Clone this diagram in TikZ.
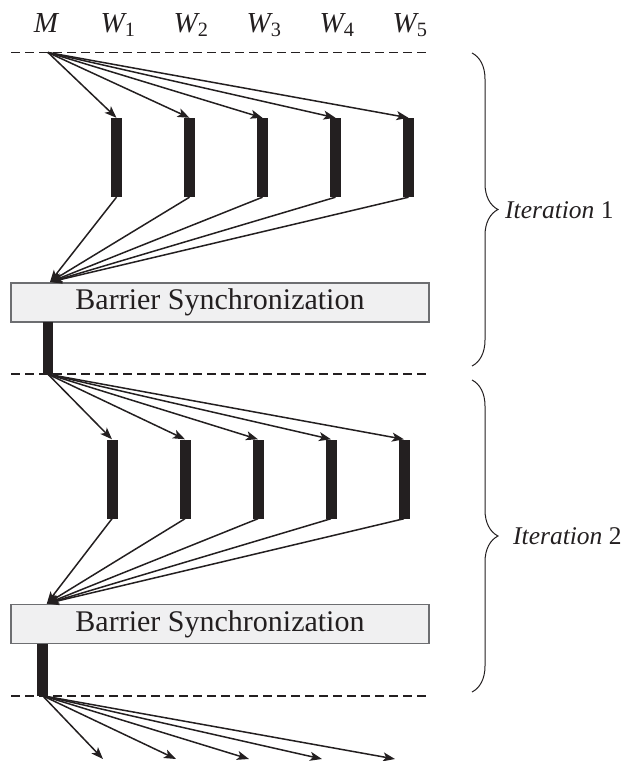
\documentclass[tikz,border=0pt]{standalone}
\usepackage{fontspec}
\setmainfont{Liberation Serif}
\usepackage{tikz}
\usetikzlibrary{
	arrows.meta,									% 箭头样式
	decorations.pathreplacing,						% 花括号
}
\definecolor{inkblack}{HTML}{231F20}
\definecolor{barrierfill}{HTML}{F0F0F1}
\definecolor{barrierdraw}{HTML}{6D6E71}

\begin{document}
\begin{tikzpicture}[x=1pt, y=-1pt,
		msg/.style={draw=inkblack, line width=1.5pt, -{Stealth[length=12pt, width=9pt, inset=3pt]}},
		workbar/.style={fill=inkblack, minimum width=11pt, minimum height=79pt, inner sep=0pt},
		masterbar/.style={fill=inkblack, minimum width=10.5pt, minimum height=52pt, inner sep=0pt},
		barrier/.style={draw=barrierdraw, fill=barrierfill, line width=1.1pt, minimum width=418pt, minimum height=39pt, inner sep=0pt, text=inkblack, font=\fontsize{30}{32}\selectfont},
		phase/.style={draw=inkblack, line width=1.1pt, dash pattern=on 9pt off 5pt},
		iterbrace/.style={draw=inkblack, line width=1pt, decorate, decoration={brace, amplitude=26pt}},
		head/.style={anchor=base, text=inkblack, font=\fontsize{29}{32}\selectfont\itshape},
		iterlabel/.style={anchor=west, inner sep=0pt, text=inkblack, font=\fontsize{25.5}{28}\selectfont},
	]
	\useasboundingbox (0,0) rectangle (628,761);
	% 进程标签
	\node[head] (lm) at (46,32) {M};
	\foreach \k in {1,...,5}
		\node[head] (l\k) at ({118+73*(\k-1)},32) {W\textsubscript{\upshape\k}};
	% 分隔虚线
	\draw[phase] (11,52.5) -- (428,52.5);
	\draw[phase] (11,374) -- (428,374);
	\draw[phase] (11,696) -- (428,696);
	% 两次迭代
	\coordinate (m0) at (48,52.5);
	\foreach \i/\dx/\dy/\p in {1/0/0/0, 2/-4.5/321.5/1}{
		\node[barrier] (b\i) at (220,{302.5+\dy}) {Barrier Synchronization};
		\coordinate (s\i) at ({50+0.7*\dx},{282+\dy});
		\foreach \k in {1,...,5}{
			\node[workbar] (w\i\k) at ({116.5+73*(\k-1)+\dx},{157.5+\dy}) {};
			\draw[msg] (m\p) -- (w\i\k.north);
			\draw[msg] (w\i\k.south) -- (s\i);
		}
		\node[masterbar] (mb\i) at ({48+1.2*\dx},{348+\dy}) {};
		\coordinate (m\i) at (mb\i.south);
	}
	% 第三次迭代的开始
	\foreach \k in {1,...,5}{
		\coordinate (e\k) at ({103+73*(\k-1)},759);
		\draw[msg] (m2) -- (e\k);
	}
	% 花括号与标注
	\draw[iterbrace] (472,53) -- (472,366);
	\node[iterlabel] (it1) at (505,210) {\textit{Iteration} 1};
	\draw[iterbrace] (472,380) -- (472,692);
	\node[iterlabel] (it2) at (513,536) {\textit{Iteration} 2};
\end{tikzpicture}
\end{document}
